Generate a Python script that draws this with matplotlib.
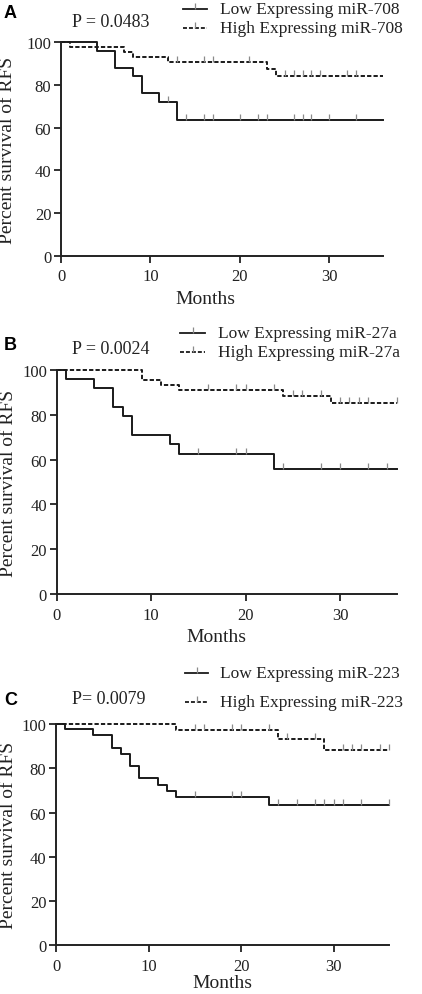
import numpy as np
from matplotlib import pyplot as plt
from matplotlib.lines import Line2D

# -----------------------------------------------
# DATA

months_ticks = [0, 10, 20, 30]
percent_ticks = [0, 20, 40, 60, 80, 100]

# panel A : miR-708
A_low_t = [0, 4, 6, 8, 9, 11, 13, 36]
A_low_s = [100, 96, 88, 84, 76, 72, 63.6, 63.6]
A_low_cens = [12, 14, 16, 17, 20, 22, 23, 26, 27, 28, 30, 33]
A_high_t = [0, 1, 7, 8, 12, 23, 24, 36]
A_high_s = [100, 97.6, 95.2, 92.9, 90.5, 87.5, 84.2, 84.2]
A_high_cens = [13, 16, 17, 21, 25, 26, 27, 28, 29, 32, 33]

# panel B : miR-27a
B_low_t = [0, 1, 4, 6, 7, 8, 12, 13, 23, 36]
B_low_s = [100, 95.8, 91.7, 83.3, 79.2, 70.8, 66.7, 62.5, 55.6, 55.6]
B_low_cens = [15, 19, 20, 24, 28, 30, 33, 35]
B_high_t = [0, 9, 11, 13, 24, 29, 36]
B_high_s = [100, 95.5, 93.2, 90.9, 88.2, 85.2, 85.2]
B_high_cens = [16, 19, 20, 23, 25, 26, 28, 30, 31, 32, 33, 36]

# panel C : miR-223
C_low_t = [0, 1, 4, 6, 7, 8, 9, 11, 12, 13, 23, 36]
C_low_s = [100, 97.7, 94.9, 89.1, 86.3, 80.8, 75.5, 72.5, 69.9, 67.1, 63.5, 63.5]
C_low_cens = [15, 19, 20, 24, 26, 28, 29, 30, 31, 33, 36]
C_high_t = [0, 13, 24, 29, 36]
C_high_s = [100, 97.1, 93.1, 88.1, 88.1]
C_high_cens = [15, 16, 19, 20, 23, 25, 28, 31, 32, 33, 35, 36]

letters = ["A", "B", "C"]
p_texts = ["P = 0.0483", "P = 0.0024", "P= 0.0079"]
mirs = ["miR-708", "miR-27a", "miR-223"]

#-------------------------------------------------
# STYLE

W, H = 422, 995
SERIF = "Liberation Serif"
LINE_COL = "#1a1a1a"
TICK_COL = "#8a8a8a"
DASH = (0, (2.2, 1.1))
plt.rcParams['font.family'] = SERIF

# -----------------------------------------------
# FUNCTIONS

def step_value(t, s, c):
  ''' survival of a step curve (t, s) at time c '''
  idx = np.searchsorted(np.asarray(t), c, side='right') - 1
  return np.asarray(s)[idx]

def km_panel(fig, box, low, high, label_xy, ylabel_x):
  ''' draws one Kaplan-Meier panel.
  box -> (left, top, right, bottom) in pixels of the figure
  low, high -> (times, survival, censored times)
  '''
  l, t, r, b = box
  ax = fig.add_axes([l / W, 1 - b / H, (r - l) / W, (b - t) / H])
  for (tt, ss, cc), ls in [(low, '-'), (high, DASH)]:
    ax.step(tt, ss, where='post', color=LINE_COL, lw=1.4, ls=ls, clip_on=False)
    ax.plot(cc, step_value(tt, ss, cc), ls='none', marker=2, ms=4.5,
            mew=0.9, color=TICK_COL, clip_on=False)
  ax.set_xlim(0, 36)
  ax.set_ylim(0, 100)
  ax.set_xticks(months_ticks)
  ax.set_yticks(percent_ticks)
  for side in ['top', 'right']:
    ax.spines[side].set_visible(False)
  for side in ['left', 'bottom']:
    ax.spines[side].set_linewidth(1.4)
    ax.spines[side].set_color("#222222")
  ax.tick_params(direction='out', length=5, width=1.3, labelsize=12,
                 color="#222222", labelcolor="#222222")
  ax.tick_params(axis='x', pad=4)
  ax.tick_params(axis='y', pad=2)
  ax.set_xlabel('Months', fontsize=14, color="#222222")
  ax.xaxis.set_label_coords(label_xy[0], label_xy[1])
  ax.xaxis.label.set_va('center')
  ax.set_ylabel('Percent survival of RFS', fontsize=14, color="#222222")
  ax.yaxis.set_label_coords(ylabel_x, 0.5)
  ax.yaxis.label.set_va('center')
  return ax

def legend_rows(fig, x0, x1, xt, y1, y2, mir):
  ''' hand made legend with a censor tick on each sample line '''
  for y, ls, name in [(y1, '-', 'Low'), (y2, DASH, 'High')]:
    yf = 1 - y / H
    fig.add_artist(Line2D([x0 / W, x1 / W], [yf, yf], transform=fig.transFigure,
                          color=LINE_COL, lw=1.3, ls=ls))
    fig.add_artist(Line2D([(x0 + x1) / 2 / W], [yf], transform=fig.transFigure,
                          marker=2, ms=4.5, mew=0.9, color=TICK_COL))
    fig.text(xt / W, yf, name + ' Expressing ' + mir, fontsize=12.5,
             va='center', ha='left', color="#222222")

# -----------------------------------------------
# EXECUTION

fig = plt.figure(figsize=(W / 100, H / 100), dpi=100)

boxes = [(61, 43, 383, 257), (56.7, 370.7, 396.7, 595.3), (56, 725, 389, 946.3)]
data = [((A_low_t, A_low_s, A_low_cens), (A_high_t, A_high_s, A_high_cens)),
        ((B_low_t, B_low_s, B_low_cens), (B_high_t, B_high_s, B_high_cens)),
        ((C_low_t, C_low_s, C_low_cens), (C_high_t, C_high_s, C_high_cens))]
label_xys = [(0.447, -0.197), (0.469, -0.19), (0.50, -0.17)]
ylabel_xs = [-0.166, -0.143, -0.144]
letter_y = [14, 346, 700.5]
p_y = [22.7, 349.3, 699.3]
leg = [(183, 206.7, 220, 10, 29), (180, 205, 218.3, 334, 353.3),
       (185, 208.3, 220, 674, 702.7)]

for n in range(3):
  low, high = data[n]
  km_panel(fig, boxes[n], low, high, label_xys[n], ylabel_xs[n])
  fig.text(4 / W, 1 - letter_y[n] / H, letters[n], fontsize=13, weight='bold',
           family='Liberation Sans', va='center', ha='left')
  fig.text(71.7 / W, 1 - p_y[n] / H, p_texts[n], fontsize=13, va='center',
           ha='left', color="#222222")
  x0, x1, xt, y1, y2 = leg[n]
  legend_rows(fig, x0, x1, xt, y1, y2, mirs[n])

fig.savefig('out.png', dpi=100)
